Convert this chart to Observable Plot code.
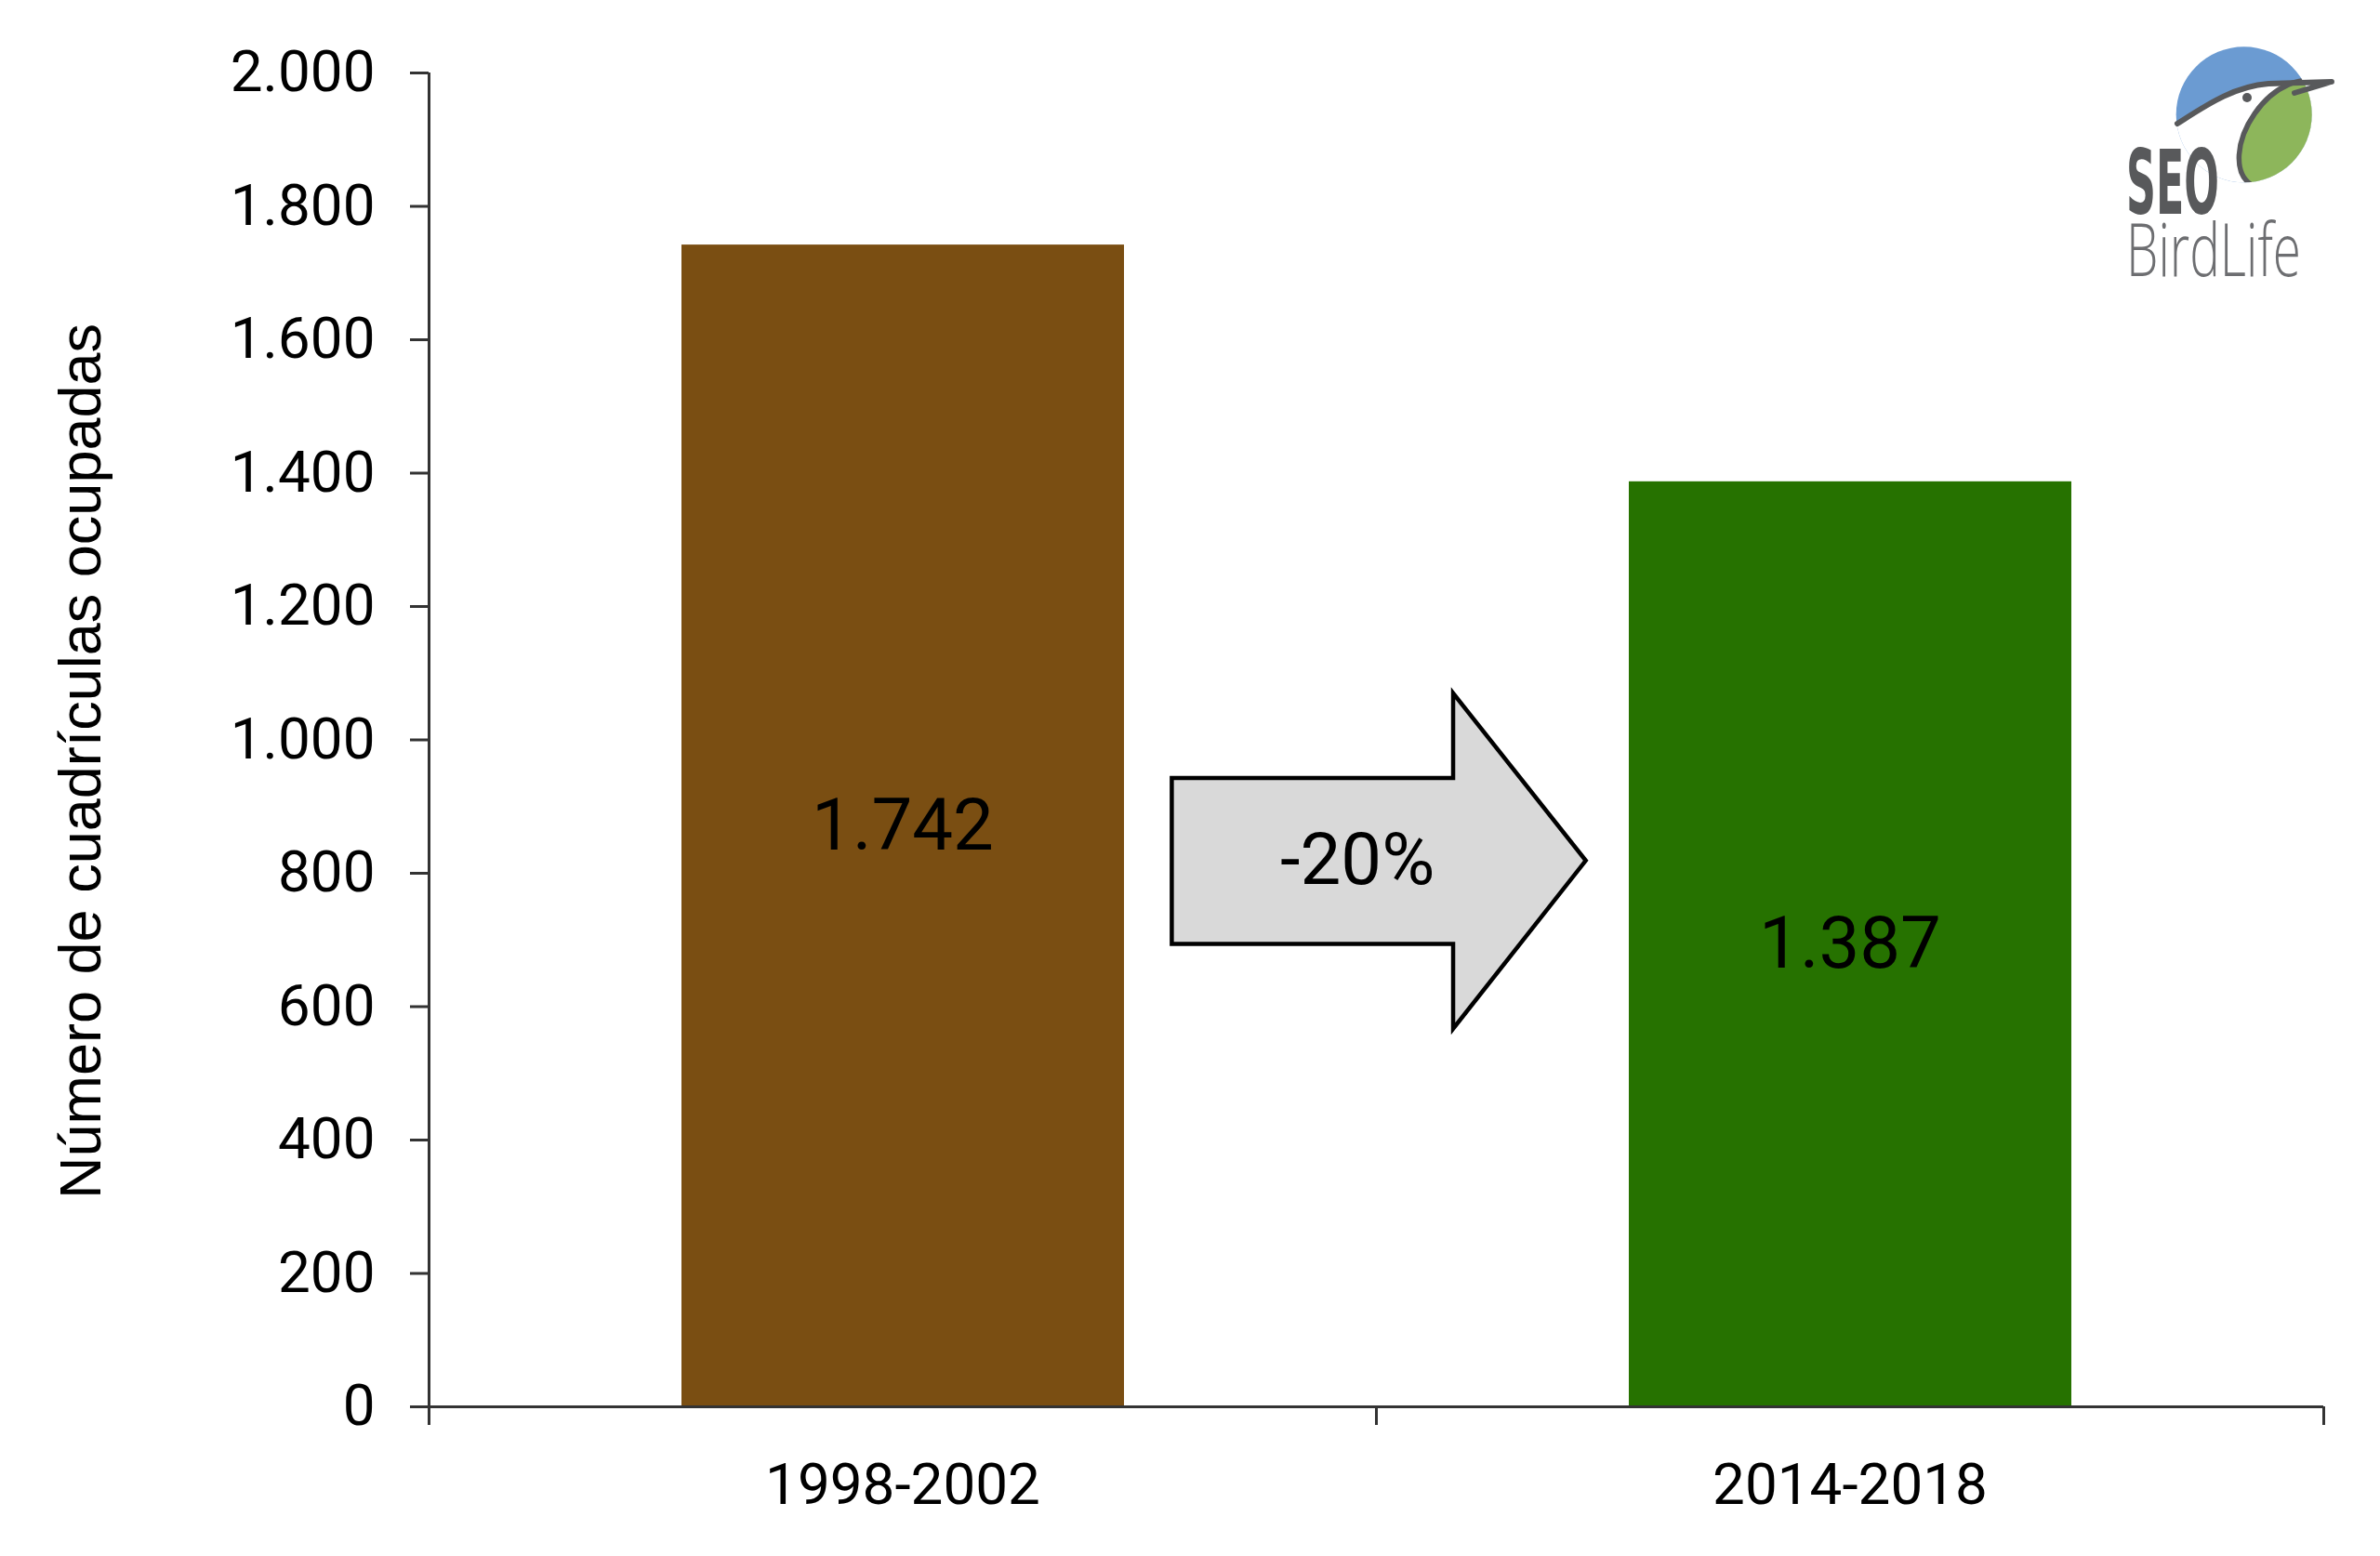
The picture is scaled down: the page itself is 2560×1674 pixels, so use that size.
<!DOCTYPE html>
<html>
<head>
<meta charset="utf-8">
<script src="https://cdn.jsdelivr.net/npm/d3@7"></script>
<script src="https://cdn.jsdelivr.net/npm/@observablehq/plot@0.6"></script>
<style>
  html, body { margin: 0; padding: 0; background: #fff; }
  #wrap { position: relative; width: 2560px; height: 1674px; overflow: hidden; }
  #logo { position: absolute; left: 2200px; top: 0px; }
</style>
</head>
<body>
<div id="wrap">
  <div id="chart"></div>
  <svg id="logo" width="360" height="330" viewBox="0 0 360 330">
    <defs>
      <clipPath id="logoCircle"><circle cx="213.7" cy="123.3" r="73"/></clipPath>
    </defs>
    <g clip-path="url(#logoCircle)">
      <rect x="130" y="40" width="170" height="170" fill="#6b9bd2"/>
      <path d="M120,140 L141.7,131.7 C175,112 205,92 240,90 L310,89 L310,215 L120,215 Z" fill="#ffffff"/>
      <ellipse cx="258" cy="145" rx="65" ry="40" transform="rotate(-55 258 145)" fill="#8db65b" stroke="#58595b" stroke-width="5.5"/>
    </g>
    <path d="M142,133 C172,114 202,93 240,90 L308,88 L268,100" fill="none" stroke="#58595b" stroke-width="6" stroke-linejoin="round" stroke-linecap="round"/>
    <circle cx="217" cy="105" r="5" fill="#58595b"/>
    <text x="87" y="230" font-family="DejaVu Sans" font-weight="bold" font-size="96" fill="#58595b" textLength="100" lengthAdjust="spacingAndGlyphs">SEO</text>
    <text x="87" y="297" font-family="Open Sans" font-weight="300" font-size="80" fill="#6d6e71" textLength="188" lengthAdjust="spacingAndGlyphs">BirdLife</text>
  </svg>
</div>
<script>
// ---- data ----
const periods = ["1998-2002", "2014-2018"];
const counts = [1742, 1387];
const yTicks = [0, 200, 400, 600, 800, 1000, 1200, 1400, 1600, 1800, 2000];
const yTitle = "Número de cuadrículas ocupadas";

// annotation arrow outline (x in category-index units, y in data units)
const arrowX = [0.784, 0.784, 1.081, 1.081, 1.221, 1.081, 1.081, 0.784, 0.784];
const arrowY = [819, 943, 943, 1070, 819, 567, 694, 694, 819];

// ---- styles ----
const barColors = ["#7a4e12", "#267200"];
const axisColor = "#333333";

const locale = d3.formatLocale({decimal: ",", thousands: ".", grouping: [3], currency: ["", " €"]});
const fmt = locale.format(",d");

const data = periods.map((p, i) => ({period: p, value: counts[i], idx: i}));
const arrow = arrowX.map((x, i) => ({x, y: arrowY[i]}));
const pct = Math.round((counts[1] - counts[0]) / counts[0] * 100);
const pctLabel = [{x: 0.98, y: 819, text: `${pct}%`}];

const chart = Plot.plot({
  width: 2560,
  height: 1674,
  marginLeft: 461,
  marginRight: 61,
  marginTop: 78,
  marginBottom: 161,
  style: {fontFamily: "Roboto", fontSize: "62px", color: "#000", background: "#fff"},
  x: {domain: [0, 2], axis: null},
  y: {domain: [0, 2000], axis: null},
  color: {domain: periods, range: barColors},
  marks: [
    Plot.rectY(data, {x1: d => d.idx, x2: d => d.idx + 1, y1: 0, y2: "value", fill: "period", insetLeft: 272, insetRight: 271}),
    Plot.text(data, {x: d => d.idx + 0.5, y: d => d.value / 2, text: d => fmt(d.value), fontSize: 78, fill: "#000"}),
    Plot.line(arrow, {x: "x", y: "y", fill: "#d9d9d9", stroke: "#000", strokeWidth: 4.5, strokeLinejoin: "miter", strokeMiterlimit: 10}),
    Plot.text(pctLabel, {x: "x", y: "y", text: "text", fontSize: 78, fill: "#000"}),
    Plot.axisY({ticks: yTicks, tickFormat: fmt, tickSize: 20, tickPadding: 38, stroke: axisColor, strokeWidth: 3, fill: "#000", fontSize: 62, label: null}),
    Plot.axisX({ticks: [0, 1, 2], tickFormat: () => "", tickSize: 20, stroke: axisColor, strokeWidth: 3, label: null}),
    Plot.axisX({ticks: [0.5, 1.5], tickFormat: d => periods[Math.floor(d)], tickSize: 0, tickPadding: 60, fill: "#000", fontSize: 62, label: null}),
    Plot.ruleY([0], {stroke: axisColor, strokeWidth: 3}),
    Plot.ruleX([0], {stroke: axisColor, strokeWidth: 3}),
    Plot.text([yTitle], {frameAnchor: "left", textAnchor: "middle", rotate: -90, dx: -374, dy: 23, fontSize: 63, fontFamily: "Liberation Sans", fill: "#000"})
  ]
});
document.getElementById("chart").appendChild(chart);
</script>
</body>
</html>
